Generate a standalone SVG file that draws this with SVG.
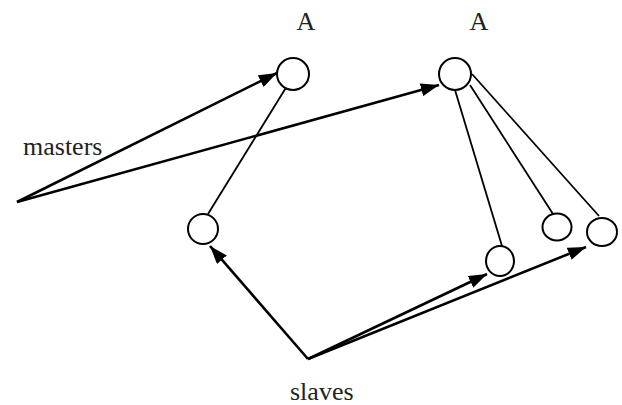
<svg xmlns="http://www.w3.org/2000/svg" width="622" height="405" viewBox="0 0 622 405">
<style>
.node{fill:#fff;stroke:#000;stroke-width:2}
.lbl{font-family:'Liberation Serif','DejaVu Serif',serif;font-size:26px;fill:#222}
.link{stroke:#000;stroke-width:1.8;fill:none}
.arr{stroke:#000;stroke-width:2.6;fill:none;marker-end:url(#ah)}
</style>
<defs>
<marker id="ah" markerWidth="7" markerHeight="5" refX="7" refY="2.5" orient="auto" markerUnits="strokeWidth">
<path d="M0,0 L7,2.5 L0,5 Z" fill="#000"/>
</marker>
</defs>
<rect width="622" height="405" fill="#fff"/>
<g id="connectors">
<line class="link" x1="287" y1="86" x2="208" y2="214"/>
<line class="link" x1="455" y1="90" x2="502" y2="246"/>
<line class="link" x1="470" y1="85" x2="553" y2="214"/>
<line class="link" x1="472" y1="74" x2="599" y2="216"/>
<line class="arr" x1="17" y1="202" x2="277" y2="73"/>
<line class="arr" x1="17" y1="202" x2="439" y2="85"/>
<line class="arr" x1="308" y1="359" x2="210" y2="246"/>
<line class="arr" x1="308" y1="359" x2="487" y2="274"/>
<line class="arr" x1="308" y1="359" x2="586" y2="247"/>
</g>
<g id="master1"><circle class="node" cx="293" cy="74" r="16"/><text class="lbl" font-family="Liberation Serif, serif" x="306" y="30" text-anchor="middle">A</text></g>
<g id="master2"><circle class="node" cx="455" cy="74" r="16"/><text class="lbl" font-family="Liberation Serif, serif" x="479" y="30" text-anchor="middle">A</text></g>
<g id="slave1"><circle class="node" cx="203" cy="229" r="15"/></g>
<g id="slave2"><ellipse class="node" cx="500" cy="261" rx="14" ry="15"/></g>
<g id="slave3"><ellipse class="node" cx="557" cy="227" rx="14.5" ry="13.5"/></g>
<g id="slave4"><ellipse class="node" cx="602" cy="232" rx="15" ry="14"/></g>
<g id="label-masters"><text class="lbl" font-family="Liberation Serif, serif" x="23" y="155">masters</text></g>
<g id="label-slaves"><text class="lbl" font-family="Liberation Serif, serif" x="290" y="400">slaves</text></g>
</svg>
